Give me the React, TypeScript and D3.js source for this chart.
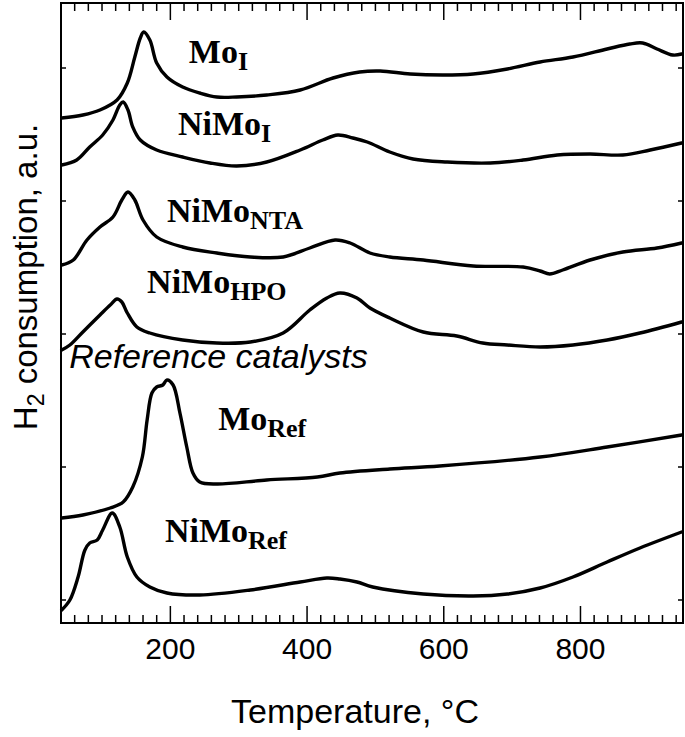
import React from "react"
import * as d3 from "d3"

// TPR profiles: [temperature °C, H2 consumption a.u. (offset)]
const moI: [number, number][] = [
  [41, 50.5], [72, 50.8], [97, 51.3], [122, 52.3], [137, 54.0], [148, 56.6], [156, 58.5],
  [161, 59.1], [170, 58.3], [180, 56.0], [195, 54.6], [218, 53.6], [243, 53.0], [268, 52.6],
  [297, 52.6], [341, 52.8], [390, 53.3], [438, 54.5], [477, 55.1], [507, 55.2], [551, 54.9],
  [599, 54.8], [643, 54.9], [693, 55.4], [741, 56.1], [789, 56.6], [839, 57.4], [872, 57.9],
  [891, 58.0], [912, 57.4], [935, 56.8], [948, 56.9],
]

const niMoI: [number, number][] = [
  [41, 45.8], [63, 46.3], [82, 47.6], [101, 48.8], [116, 50.3], [126, 51.8], [131, 52.1],
  [138, 51.3], [145, 49.6], [156, 48.3], [180, 47.3], [218, 46.6], [258, 46.0], [297, 45.7],
  [341, 46.1], [390, 47.3], [423, 48.3], [445, 48.8], [467, 48.5], [488, 48.1], [521, 47.1],
  [555, 46.4], [605, 46.1], [668, 46.0], [716, 46.3], [766, 46.8], [814, 46.9], [862, 46.8],
  [902, 47.3], [948, 48.0],
]

const niMoNTA: [number, number][] = [
  [41, 35.8], [58, 36.3], [78, 38.3], [97, 39.6], [116, 40.6], [129, 42.3], [138, 43.1],
  [148, 42.3], [160, 40.3], [180, 38.6], [218, 37.6], [268, 37.0], [317, 36.6], [365, 36.6],
  [404, 37.5], [441, 38.3], [463, 38.0], [492, 37.0], [521, 36.6], [570, 36.3], [643, 35.7],
  [716, 35.6], [741, 35.2], [755, 34.9], [774, 35.3], [814, 36.3], [862, 37.1], [912, 37.5],
  [948, 38.0],
]

const niMoHPO: [number, number][] = [
  [41, 27.3], [53, 27.8], [72, 29.1], [97, 30.8], [112, 31.8], [122, 32.4], [129, 32.1],
  [137, 31.0], [151, 29.6], [170, 29.0], [218, 28.3], [268, 28.0], [317, 28.1], [365, 29.0],
  [404, 31.3], [429, 32.5], [448, 33.0], [473, 32.5], [492, 31.5], [521, 30.5], [570, 29.1],
  [619, 28.7], [657, 28.0], [693, 27.8], [741, 27.6], [789, 27.8], [839, 28.3], [887, 29.0],
  [948, 30.1],
]

const moRef: [number, number][] = [
  [41, 10.5], [72, 10.8], [112, 11.5], [131, 12.1], [145, 13.6], [159, 16.6], [166, 20.3],
  [173, 23.0], [180, 23.6], [189, 23.8], [195, 24.3], [204, 23.8], [214, 21.0], [224, 17.6],
  [233, 15.0], [243, 14.1], [268, 13.9], [341, 14.3], [415, 14.6], [448, 15.0], [521, 15.4],
  [594, 15.7], [741, 16.6], [839, 17.6], [948, 18.8],
]

const niMoRef: [number, number][] = [
  [41, 1.3], [53, 2.3], [65, 4.6], [75, 7.3], [82, 8.0], [93, 8.3], [101, 9.3], [115, 11.0],
  [126, 9.6], [137, 6.6], [151, 4.6], [170, 3.6], [195, 3.0], [243, 2.8], [317, 3.3],
  [390, 4.1], [429, 4.5], [448, 4.4], [473, 4.1], [496, 3.6], [570, 2.9], [643, 2.7],
  [693, 2.9], [741, 3.5], [789, 4.6], [839, 6.1], [887, 7.5], [948, 9.1],
]

const series = [moI, niMoI, niMoNTA, niMoHPO, moRef, niMoRef]

// curve labels: main text, subscript, anchor temperature, anchor value
const labels: { main: string; sub: string; t: number; v: number }[] = [
  { main: "Mo", sub: "I", t: 227, v: 56.0 },
  { main: "NiMo", sub: "I", t: 211, v: 48.8 },
  { main: "NiMo", sub: "NTA", t: 195, v: 40.1 },
  { main: "NiMo", sub: "HPO", t: 166, v: 33.0 },
  { main: "Mo", sub: "Ref", t: 270, v: 19.3 },
  { main: "NiMo", sub: "Ref", t: 192, v: 8.1 },
]

const xMajor = [200, 400, 600, 800]
const xMinor = d3.range(60, 950, 20).filter((d) => d % 200 !== 0)
const yTicks = [2.3, 15.6, 28.9, 42.2, 55.5]

const W = 685
const H = 737
const left = 61
const right = 683
const top = 3
const bottom = 623

const App: React.FC = () => {
  const x = d3.scaleLinear().domain([40, 950]).range([left, right])
  const y = d3.scaleLinear().domain([0, 62]).range([bottom, top])

  const line = d3
    .line<[number, number]>()
    .x((d) => x(d[0]))
    .y((d) => y(d[1]))
    .curve(d3.curveCatmullRom.alpha(0.5))

  const sans = "'Liberation Sans', Arial, Helvetica, sans-serif"
  const serif = "'Liberation Serif', 'Times New Roman', serif"

  return (
    <svg width={W} height={H} style={{ position: "absolute", left: 0, top: 0, background: "#fff" }}>
      <rect x={0} y={0} width={W} height={H} fill="#fff" />

      {/* ticks */}
      <g stroke="#000" strokeWidth={1.5}>
        {xMinor.map((t) => (
          <g key={"mi" + t}>
            <line x1={x(t)} x2={x(t)} y1={bottom} y2={bottom - 8} />
            <line x1={x(t)} x2={x(t)} y1={top} y2={top + 8} />
          </g>
        ))}
        {xMajor.map((t) => (
          <g key={"ma" + t}>
            <line x1={x(t)} x2={x(t)} y1={bottom} y2={bottom - 17} />
            <line x1={x(t)} x2={x(t)} y1={top} y2={top + 17} />
          </g>
        ))}
        {yTicks.map((v) => (
          <g key={"y" + v}>
            <line x1={left} x2={left + 5} y1={y(v)} y2={y(v)} />
            <line x1={right} x2={right - 5} y1={y(v)} y2={y(v)} />
          </g>
        ))}
      </g>

      {/* curves */}
      <g fill="none" stroke="#000" strokeWidth={3.4} strokeLinejoin="round" strokeLinecap="round">
        {series.map((s, i) => (
          <path key={i} d={line(s) ?? ""} />
        ))}
      </g>

      {/* frame */}
      <rect x={left} y={top} width={right - left} height={bottom - top} fill="none" stroke="#000" strokeWidth={2} />

      {/* tick labels */}
      {xMajor.map((t) => (
        <text key={"tl" + t} x={x(t)} y={659} textAnchor="middle" fontFamily={sans} fontSize={30}>
          {t}
        </text>
      ))}

      <text x={355} y={723} textAnchor="middle" fontFamily={sans} fontSize={34}>
        Temperature, °C
      </text>

      <text transform={`translate(37, 277) rotate(-90)`} textAnchor="middle" fontFamily={sans} fontSize={33}>
        H<tspan fontSize={23} dy={7}>2</tspan>
        <tspan dy={-7}> consumption, a.u.</tspan>
      </text>

      {labels.map((l, i) => (
        <text key={"lab" + i} x={x(l.t)} y={y(l.v)} fontFamily={serif} fontWeight="bold" fontSize={34}>
          {l.main}
          <tspan fontSize={26} dy={7}>
            {l.sub}
          </tspan>
        </text>
      ))}

      <text x={x(52)} y={y(25.5)} fontFamily={sans} fontStyle="italic" fontSize={34}>
        Reference catalysts
      </text>
    </svg>
  )
}

export default App
